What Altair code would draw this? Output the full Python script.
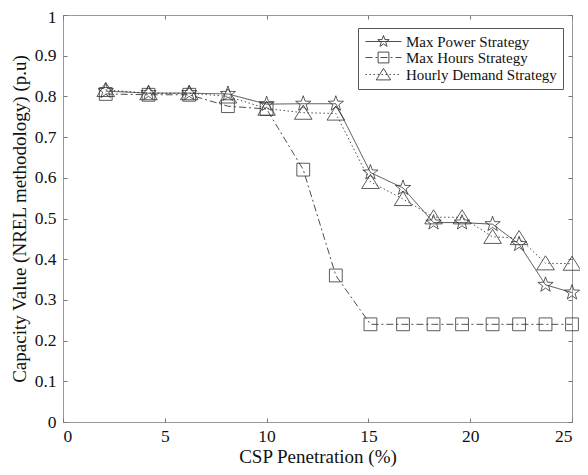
import math
import altair as alt
import pandas as pd

# ---------------- data ----------------
x_vals = [2.1, 4.2, 6.2, 8.1, 10.0, 11.8, 13.4, 15.1, 16.7, 18.2, 19.6, 21.1, 22.4, 23.7, 25.0]
max_power = [0.813, 0.808, 0.808, 0.806, 0.781, 0.782, 0.782, 0.613, 0.575, 0.490, 0.490, 0.486, 0.437, 0.337, 0.318]
max_hours = [0.806, 0.804, 0.804, 0.776, 0.769, 0.620, 0.360, 0.240, 0.240, 0.240, 0.240, 0.240, 0.240, 0.240, 0.240]
hourly_demand = [0.816, 0.808, 0.808, 0.800, 0.770, 0.760, 0.758, 0.590, 0.548, 0.503, 0.503, 0.455, 0.452, 0.390, 0.389]
series_names = ["Max Power Strategy", "Max Hours Strategy", "Hourly Demand Strategy"]
x_ticks = [0, 5, 10, 15, 20, 25]
y_ticks = [0, 0.1, 0.2, 0.3, 0.4, 0.5, 0.6, 0.7, 0.8, 0.9, 1.0]

rows = []
for name, vals in zip(series_names, [max_power, max_hours, hourly_demand]):
    for xv, yv in zip(x_vals, vals):
        rows.append({"x": xv, "y": yv, "series": name})
df = pd.DataFrame(rows)

# ---------------- marker shapes (unit-space SVG paths) ----------------
def star(cx=0.0, s=1.0):
    pts = []
    for i in range(10):
        r = 1.0 if i % 2 == 0 else 0.4
        a = math.radians(-90 + 36 * i)
        pts.append((cx + s * r * math.cos(a), s * r * math.sin(a)))
    return "M" + " L".join(f"{px:.3f},{py:.3f}" for px, py in pts) + " Z"


def square(cx=0.0, s=1.0):
    return (f"M{cx - s:.3f},{-s:.3f} L{cx + s:.3f},{-s:.3f} "
            f"L{cx + s:.3f},{s:.3f} L{cx - s:.3f},{s:.3f} Z")


def triangle(cx=0.0, s=1.0):
    return (f"M{cx:.3f},{-0.85 * s:.3f} L{cx + s:.3f},{0.75 * s:.3f} "
            f"L{cx - s:.3f},{0.75 * s:.3f} Z")


def dashed(pattern, u0, u1, unit=6.0):
    if pattern is None:
        return f"M{u0:.3f},0 L{u1:.3f},0"
    pat = [p / unit for p in pattern]
    out, pos, i = [], u0, 0
    while pos < u1:
        seg = pat[i % len(pat)]
        if i % 2 == 0:
            out.append(f"M{pos:.3f},0 L{min(pos + seg, u1):.3f},0")
        pos += seg
        i += 1
    return " ".join(out)


dash_patterns = [None, [7, 3, 2, 3], [1.5, 2.5]]
plot_paths = [star(0, 1.0), square(0, 0.8), triangle(0, 1.1)]
legend_paths = [
    dashed(dash_patterns[0], -1.0, 5.0) + " " + star(2, 1.0),
    dashed(dash_patterns[1], -1.0, 5.0) + " " + square(2, 0.9),
    dashed(dash_patterns[2], -1.0, 5.0) + " " + triangle(2, 1.2),
]

FONT = "Liberation Serif"
W, H = 509, 407

x_enc = alt.X(
    "x:Q",
    scale=alt.Scale(domain=[0, 25], nice=False, zero=False),
    axis=alt.Axis(values=x_ticks, format="d", title="CSP Penetration (%)",
                  ticks=False, domain=False, grid=True, gridDash=[4, H - 8],
                  gridColor="#777", gridWidth=1, labelFont=FONT, labelFontSize=17.5,
                  labelColor="#111", labelPadding=5, titleFont=FONT, titleFontSize=19,
                  titleFontWeight="normal", titleColor="#111", titlePadding=3),
)
y_enc = alt.Y(
    "y:Q",
    scale=alt.Scale(domain=[0, 1], nice=False, zero=False),
    axis=alt.Axis(values=y_ticks, format=".1~f", title="Capacity Value (NREL methodology) (p.u)",
                  ticks=False, domain=False, grid=True, gridDash=[4, W - 8],
                  gridColor="#777", gridWidth=1, labelFont=FONT, labelFontSize=17.5,
                  labelOffset={"condition": {"test": "datum.value >= 1", "value": 2.5}, "value": 0},
                  labelColor="#111", labelPadding=7, titleFont=FONT, titleFontSize=19,
                  titleFontWeight="normal", titleColor="#111", titlePadding=5),
)

lines = alt.Chart(df).mark_line(strokeWidth=0.8, color="#222").encode(
    x=x_enc, y=y_enc,
    strokeDash=alt.StrokeDash("series:N", scale=alt.Scale(domain=series_names,
                              range=[[1, 0], dash_patterns[1], dash_patterns[2]]), legend=None),
    order="x:Q",
)

points = alt.Chart(df).mark_point(filled=False, size=256, strokeWidth=0.8, color="#333", opacity=1).encode(
    x=x_enc, y=y_enc,
    shape=alt.Shape("series:N", scale=alt.Scale(domain=series_names, range=plot_paths), legend=None),
)

legend_layer = alt.Chart(df).transform_filter("datum.x < 0").mark_point(
    filled=False, size=144, strokeWidth=0.8, color="#222", opacity=1
).encode(
    x=x_enc, y=y_enc,
    shape=alt.Shape("series:N", scale=alt.Scale(domain=series_names, range=legend_paths),
                    legend=alt.Legend(title=None, orient="none", legendX=295, legendY=13,
                                      padding=6, strokeColor="#555", fillColor="white",
                                      symbolSize=144, symbolStrokeWidth=0.8,
                                      symbolStrokeColor="#222", labelFont=FONT,
                                      labelFontSize=15, labelColor="#111",
                                      labelOffset=27, rowPadding=0)),
)

chart = (
    alt.layer(lines, points, legend_layer)
    .resolve_scale(shape="independent")
    .properties(width=W, height=H,
                autosize=alt.AutoSizeParams(type="none"),
                padding={"left": 55, "top": 7, "right": 8, "bottom": 45})
    .configure(background="white", font=FONT)
    .configure_view(stroke="#999", strokeWidth=1)
    .configure_axis(labelFont=FONT, titleFont=FONT)
    .configure_legend(labelFont=FONT)
)

chart.save("out.html", embed_options={"renderer": "svg", "actions": False})
